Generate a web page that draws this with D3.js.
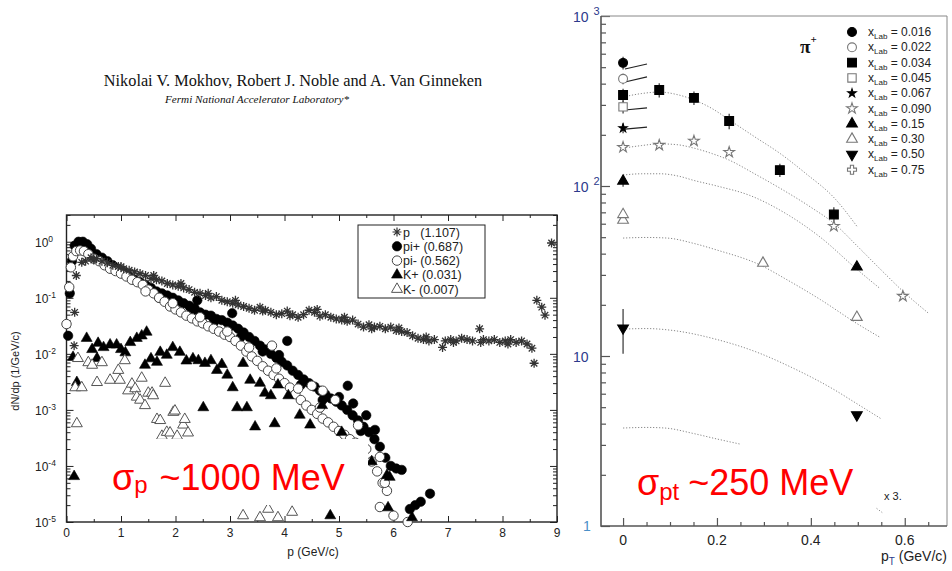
<!DOCTYPE html>
<html><head><meta charset="utf-8">
<script src="https://cdn.jsdelivr.net/npm/d3@7"></script>
<style>body{margin:0;background:#fff}svg{display:block}</style>
</head><body>
<svg id="fig" width="952" height="571"></svg>
<script>
// ---------------- Left panel: dN/dp spectra (log scale) ----------------
const protonPts = [[0.14,0.014],[0.15,0.055],[0.18,0.25],[0.28,0.43],[0.35,0.45],[0.45,0.52],[0.55,0.5],[0.65,0.45],[0.75,0.42],[0.85,0.38],
  [0.95,0.36],[1.05,0.33],[1.15,0.31],[1.25,0.29],[1.35,0.27],[1.45,0.25],[1.55,0.22],[1.65,0.21],[1.75,0.2],[1.85,0.18],
  [1.95,0.17],[2.05,0.16],[2.15,0.15],[2.25,0.14],[2.35,0.125],[2.45,0.12],[2.55,0.11],[2.65,0.1],[2.75,0.105],[2.85,0.09],
  [2.95,0.085],[3.05,0.08],[3.15,0.075],[3.25,0.07],[3.35,0.065],[3.45,0.06],[3.55,0.068],[3.65,0.06],[3.75,0.055],[3.85,0.05],
  [3.95,0.052],[4.05,0.058],[4.15,0.05],[4.25,0.045],[4.35,0.05],[4.45,0.06],[4.55,0.055],[4.65,0.047],[4.75,0.05],[4.85,0.045],
  [4.95,0.042],[5.05,0.04],[5.15,0.038],[5.25,0.04],[5.35,0.034],[5.45,0.03],[5.55,0.033],[5.65,0.03],[5.75,0.031],[5.85,0.028],
  [5.95,0.03],[6.05,0.026],[6.15,0.025],[6.25,0.024],[6.35,0.021],[6.45,0.019],[6.55,0.018],[6.65,0.017],[6.75,0.018],[6.9,0.013],
  [6.95,0.017],[7.05,0.018],[7.15,0.017],[7.25,0.019],[7.35,0.018],[7.45,0.017],[7.58,0.028],[7.65,0.018],[7.75,0.017],[7.85,0.018],
  [7.95,0.016],[8.05,0.017],[8.15,0.018],[8.25,0.016],[8.35,0.017],[8.45,0.015],[8.54,0.0126],[8.58,0.0068],[8.63,0.09],[8.72,0.068],
  [8.78,0.049],[8.9,0.95],
  [0.5,0.47],[1.0,0.36],[1.6,0.25],[2.1,0.18],[2.6,0.12],[3.1,0.09],[3.6,0.058],[4.1,0.048],[4.6,0.062],[5.1,0.045],[5.6,0.028],[6.1,0.029],[6.6,0.02],[7.1,0.016],[7.6,0.016],[8.1,0.015]];
const piPlusPts = [[0.03,0.021],[0.06,0.12],[0.1,0.45],[0.15,0.85],[0.22,1.0],[0.3,1.0],[0.38,0.9],[0.45,0.75],[0.55,0.6],[0.65,0.52],
  [0.75,0.45],[0.85,0.38],[0.95,0.33],[1.05,0.28],[1.15,0.24],[1.25,0.21],[1.35,0.19],[1.45,0.17],[1.55,0.15],[1.65,0.13],
  [1.75,0.12],[1.85,0.11],[1.95,0.1],[2.05,0.09],[2.15,0.08],[2.25,0.072],[2.35,0.065],[2.45,0.055],[2.55,0.05],[2.65,0.048],
  [2.75,0.042],[2.85,0.04],[2.95,0.036],[3.05,0.032],[3.15,0.028],[3.25,0.024],[3.35,0.02],[3.45,0.017],[3.55,0.014],[3.65,0.012],
  [3.75,0.01],[3.85,0.0085],[3.95,0.0072],[4.05,0.0062],[4.15,0.005],[4.25,0.0042],[4.35,0.0035],[4.45,0.003],[4.55,0.0026],[4.65,0.0022],
  [4.75,0.0019],[4.85,0.0016],[4.95,0.0014],[5.05,0.0012],[5.15,0.001],[5.25,0.0008],[5.35,0.00065],[5.45,0.0005],[5.55,0.0004],[5.65,0.0003],
  [5.75,0.00022],[5.85,0.00014],[5.95,0.0001],[6.05,0.00009],[6.15,0.000085],[6.3,0.000017],[6.4,0.00002],[6.5,0.000023],[6.67,0.000032],
  [2.4,0.09],[3.04,0.053],[4.05,0.017],[5.16,0.0027],[5.26,0.0013],[5.5,0.0008],[5.66,0.00044],
  [1.7,0.1],[2.0,0.075],[2.3,0.058],[2.7,0.036],[3.2,0.02],[3.6,0.011],[3.9,0.0095],[4.3,0.0028],[4.7,0.0015],[5.0,0.0017],[5.4,0.00042]];
const piMinusPts = [[0.0,0.034],[0.05,0.155],[0.08,0.35],[0.12,0.55],[0.18,0.68],[0.25,0.7],[0.32,0.68],[0.4,0.6],[0.5,0.5],[0.6,0.45],
  [0.7,0.38],[0.8,0.33],[0.9,0.3],[1.0,0.27],[1.1,0.24],[1.2,0.21],[1.3,0.19],[1.4,0.17],[1.5,0.14],[1.6,0.12],
  [1.7,0.1],[1.8,0.085],[1.9,0.07],[2.0,0.062],[2.1,0.055],[2.2,0.048],[2.3,0.043],[2.4,0.038],[2.5,0.035],[2.6,0.031],
  [2.7,0.028],[2.8,0.025],[2.9,0.022],[3.0,0.02],[3.1,0.017],[3.2,0.014],[3.3,0.011],[3.4,0.009],[3.5,0.0075],[3.6,0.006],
  [3.7,0.005],[3.8,0.0042],[3.9,0.0036],[4.0,0.003],[4.1,0.0025],[4.2,0.0019],[4.3,0.0015],[4.4,0.0012],[4.5,0.001],[4.6,0.00085],
  [4.7,0.0007],[4.8,0.0006],[4.9,0.0005],[5.0,0.00042],[5.1,0.00036],[5.2,0.0003],[5.3,0.00026],[5.4,0.00022],[5.5,0.0002],[5.6,0.00012],
  [5.7,0.00008],[5.75,0.0000185],[5.8,0.00005],[5.88,0.000036],[6.0,0.000013],[6.26,0.00001],
  [3.77,0.014],[4.5,0.0027],[4.7,0.0022],[4.93,0.0015],[5.35,0.00053],[5.75,0.000145],[5.84,0.00005],
  [1.45,0.13],[1.95,0.08],[2.45,0.045],[2.95,0.025],[3.35,0.013],[3.85,0.0055],[4.25,0.0024],[4.65,0.0011]];
const kPlusPts = [[0.12,0.0087],[0.14,0.000065],[0.19,0.0031],[0.37,0.019],[0.47,0.012],[0.56,0.0083],[0.58,0.0155],[0.68,0.013],[0.8,0.0145],[0.92,0.0145],
  [1.0,0.012],[1.08,0.0105],[1.17,0.016],[1.29,0.019],[1.38,0.021],[1.47,0.0245],[1.44,0.0063],[1.55,0.0082],[1.66,0.0071],[1.72,0.0107],
  [1.84,0.0095],[1.95,0.013],[2.08,0.0107],[2.2,0.0075],[2.32,0.0082],[2.42,0.0076],[2.51,0.0011],[2.54,0.0068],[2.65,0.0076],[2.76,0.0051],
  [2.85,0.0065],[2.95,0.0042],[3.05,0.0025],[3.13,0.0011],[3.24,0.0068],[3.31,0.0011],[3.37,0.0034],[3.46,0.0005],[3.55,0.003],[3.64,0.002],
  [3.75,0.0018],[3.82,0.00057],[3.88,0.0028],[4.07,0.0018],[4.28,0.00081],[4.47,0.00054],[4.69,0.0012],[4.84,0.000013],[5.05,0.0004],[5.3,0.00022],
  [5.6,0.00012],[5.88,0.000068],[5.93,0.000063],[5.9,0.000018],[6.34,0.000012]];
const kMinusPts = [[0.16,0.0025],[0.19,0.00057],[0.21,0.0083],[0.28,0.0025],[0.4,0.007],[0.47,0.0063],[0.56,0.0031],[0.65,0.007],[0.8,0.0034],[0.95,0.0051],
  [0.98,0.0034],[1.07,0.0076],[1.13,0.0022],[1.2,0.0029],[1.26,0.0024],[1.29,0.0017],[1.35,0.0015],[1.38,0.0037],[1.44,0.0012],[1.5,0.002],
  [1.57,0.002],[1.59,0.0018],[1.66,0.00068],[1.72,0.00065],[1.75,0.00034],[1.81,0.003],[1.84,0.0004],[1.9,0.00039],[1.96,0.00091],[1.99,0.00096],
  [2.03,0.00034],[2.14,0.00054],[2.17,0.00068],[2.23,0.00039],[3.24,0.000013],[3.55,0.000012],[3.7,0.000017],[3.88,0.000012],[4.14,0.000015]];
const leftLegend = ["p   (1.107)", "pi+ (0.687)", "pi- (0.562)", "K+ (0.031)", "K- (0.007)"];
const pTicks = [0,1,2,3,4,5,6,7,8,9];
const dndpExponents = [0,-1,-2,-3,-4,-5];

// ---------------- Right panel: pi+ pT spectra ----------------
const xLabLabels = ["0.016","0.022","0.034","0.045","0.067","0.090","0.15","0.30","0.50","0.75"];
// [pT, value, error]
const x016 = [[0,530,45]];
const x022 = [[0,427,30]];
const x034 = [[0,343,30],[0.077,367,35],[0.151,330,30],[0.226,241,25],[0.334,124,11],[0.449,68,7]];
const x045 = [[0,292,25]];
const x067 = [[0,219,15]];
const x090 = [[0,169,0],[0.077,174,0],[0.151,184,0],[0.226,158,0],[0.449,58,0],[0.596,22.5,0]];
const x015 = [[0,107,8],[0.498,33.4,0]];
const x030 = [[0,63,0],[0,68,0],[0.298,35.2,0],[0.498,16.9,0]];
const x050 = [[0,14.6,4.3],[0.498,4.5,0]];
const x075 = [];
// short solid fits at low pT
const fit016 = [[0.004,488],[0.051,522]];
const fit022 = [[0.004,409],[0.051,438]];
const fit045 = [[0.004,280],[0.051,288]];
const fit067 = [[0.004,216],[0.051,222]];
// dotted model curves
const model034 = [[0,334],[0.04,350],[0.077,357],[0.115,345],[0.151,321],[0.19,285],[0.226,245],[0.28,195],[0.335,155],[0.39,118],[0.45,85],[0.5,57]];
const model090 = [[0,167],[0.04,173],[0.077,177],[0.115,175],[0.151,167],[0.19,155],[0.226,142],[0.28,118],[0.34,95],[0.4,75],[0.45,60],[0.5,44],[0.55,32],[0.6,23.5],[0.65,17.9]];
const model015 = [[0,116],[0.04,118],[0.079,118],[0.12,114],[0.15,108],[0.2,100],[0.27,88],[0.35,68],[0.42,50],[0.5,32],[0.547,25]];
const model030 = [[0,49.4],[0.05,49.8],[0.094,49.4],[0.15,46],[0.2,42],[0.29,34.5],[0.35,28],[0.42,21.5],[0.5,15.4],[0.547,12.9]];
const model050 = [[0,14.4],[0.05,14.5],[0.1,14.2],[0.2,12.5],[0.29,10.4],[0.35,8.8],[0.447,6.4],[0.5,5.2],[0.551,4.25]];
const model075 = [[0,3.77],[0.05,3.8],[0.089,3.77],[0.15,3.5],[0.2,3.25],[0.25,3.03]];
const modelTail = [[0.54,1.27],[0.552,1.2]];
const ptTicks = [0,0.2,0.4,0.6];
const countExponents = [3,2,1];

const svg = d3.select("#fig");
svg.append("rect").attr("width",952).attr("height",571).attr("fill","#fff");

// header text
svg.append("text").attr("x",293).attr("y",86).attr("text-anchor","middle")
  .attr("font-family","Liberation Serif").attr("font-size",16.3).attr("fill","#111")
  .text("Nikolai V. Mokhov, Robert J. Noble and A. Van Ginneken");
svg.append("text").attr("x",257).attr("y",103).attr("text-anchor","middle")
  .attr("font-family","Liberation Serif").attr("font-style","italic").attr("font-size",11.2).attr("fill","#111")
  .text("Fermi National Accelerator Laboratory*");

// ----- left panel -----
const L = {x0:66.5, x1:557, y0:215, y1:522};
const xL = d3.scaleLinear().domain([0,9]).range([L.x0,L.x1]);
const yL = d3.scaleLog().domain([1e-5,3.0]).range([L.y1,L.y0]);
const left = svg.append("g").attr("font-family","Liberation Sans");

function minorLogTicks(lo, hi){
  const t=[]; for(let e=lo;e<hi;e++) for(let k=2;k<=9;k++){ t.push(k*Math.pow(10,e)); } return t;
}
const lMajor = dndpExponents.map(e=>Math.pow(10,e));
const lMinor = minorLogTicks(-5,1).filter(v=>v<=3.0);
function tickAxis(g, axis){ g.call(axis); g.select(".domain").remove(); g.selectAll("text").remove(); g.selectAll("line").attr("stroke","#222"); }
left.append("g").attr("transform",`translate(${L.x0},0)`).call(g=>tickAxis(g,d3.axisRight(yL).tickValues(lMajor).tickSize(7)));
left.append("g").attr("transform",`translate(${L.x0},0)`).call(g=>tickAxis(g,d3.axisRight(yL).tickValues(lMinor).tickSize(4)));
left.append("g").attr("transform",`translate(${L.x1},0)`).call(g=>tickAxis(g,d3.axisLeft(yL).tickValues(lMajor).tickSize(7)));
left.append("g").attr("transform",`translate(${L.x1},0)`).call(g=>tickAxis(g,d3.axisLeft(yL).tickValues(lMinor).tickSize(4)));
const halfP = d3.range(0.5,9,1);
left.append("g").attr("transform",`translate(0,${L.y1})`).call(g=>tickAxis(g,d3.axisTop(xL).tickValues(pTicks).tickSize(6)));
left.append("g").attr("transform",`translate(0,${L.y1})`).call(g=>tickAxis(g,d3.axisTop(xL).tickValues(halfP).tickSize(3)));
left.append("g").attr("transform",`translate(0,${L.y0})`).call(g=>tickAxis(g,d3.axisBottom(xL).tickValues(pTicks).tickSize(6)));
left.append("g").attr("transform",`translate(0,${L.y0})`).call(g=>tickAxis(g,d3.axisBottom(xL).tickValues(halfP).tickSize(3)));
left.append("rect").attr("x",L.x0).attr("y",L.y0).attr("width",L.x1-L.x0).attr("height",L.y1-L.y0)
  .attr("fill","none").attr("stroke","#222").attr("stroke-width",1.4);

// tick labels
left.selectAll("text.xt").data(pTicks).join("text").attr("class","xt")
  .attr("x",d=>xL(d)).attr("y",537).attr("text-anchor","middle").attr("font-size",12).attr("fill","#222").text(d=>d);
dndpExponents.forEach(e=>{
  const t = left.append("text").attr("y",yL(Math.pow(10,e))+5).attr("font-size",12).attr("fill","#222");
  t.append("tspan").attr("x",35).text("10");
  t.append("tspan").attr("dy",-5).attr("font-size",8.5).text(e===0?"0":"-"+(-e));
});
left.append("text").attr("transform","translate(19,371) rotate(-90)").attr("text-anchor","middle")
  .attr("font-size",11).attr("fill","#222").text("dN/dp (1/GeV/c)");
left.append("text").attr("x",313).attr("y",556).attr("text-anchor","middle")
  .attr("font-size",12).attr("fill","#222").text("p (GeV/c)");

// marker shapes
const asterisk = "M-4.5,0L4.5,0M0,-4.5L0,4.5M-3.2,-3.2L3.2,3.2M-3.2,3.2L3.2,-3.2";
const circleP = d3.symbol(d3.symbolCircle, 70)();
const triP = d3.symbol(d3.symbolTriangle, 52)();
function drawPts(g, data, path, fill, stroke, sw){
  g.selectAll(null).data(data).join("path")
    .attr("transform",d=>`translate(${xL(d[0])},${yL(d[1])})`)
    .attr("d",path).attr("fill",fill).attr("stroke",stroke).attr("stroke-width",sw);
}
const marks = left.append("g");
drawPts(marks, piPlusPts, circleP, "#000", "#000", 0.6);
drawPts(marks, piMinusPts, circleP, "#fff", "#444", 1);
drawPts(marks, protonPts, asterisk, "none", "#333", 1.3);
drawPts(marks, kPlusPts, triP, "#000", "#000", 0.6);
drawPts(marks, kMinusPts, triP, "#fff", "#555", 1);

// legend
const lg = left.append("g");
lg.append("rect").attr("x",358).attr("y",225).attr("width",127).attr("height",73).attr("fill","#fff").attr("stroke","#222").attr("stroke-width",1);
const legendShapes = [[asterisk,"none","#333",1.2],[circleP,"#000","#000",0.6],[circleP,"#fff","#444",1],[triP,"#000","#000",0.6],[triP,"#fff","#555",1]];
leftLegend.forEach((lab,i)=>{
  const yy = 232 + i*14.3;
  const s = legendShapes[i];
  lg.append("path").attr("transform",`translate(397,${yy})`).attr("d",s[0]).attr("fill",s[1]).attr("stroke",s[2]).attr("stroke-width",s[3]);
  lg.append("text").attr("x",403).attr("y",yy+4.5).attr("font-size",12.5).attr("fill","#222")
    .attr("xml:space","preserve").style("white-space","pre").text(lab);
});

// annotation over the left panel
left.append("rect").attr("x",88).attr("y",439).attr("width",280).attr("height",66).attr("fill","#fff");
const annL = left.append("text").attr("x",112).attr("y",490).attr("fill","#ff0000").attr("font-size",36);
annL.append("tspan").text("σ");
annL.append("tspan").attr("font-size",24).attr("dy",3).text("p");
annL.append("tspan").attr("dy",-3).attr("dx",12).text("~1000 MeV");

// ----- right panel -----
const R = {x0:601, x1:947, y0:16, y1:526};
const xR = d3.scaleLinear().domain([-0.047,0.69]).range([R.x0,R.x1]);
const yR = d3.scaleLog().domain([1,1000]).range([R.y1,R.y0]);
const right = svg.append("g").attr("font-family","Liberation Sans");

const rMajor = countExponents.map(e=>Math.pow(10,e));
const rMinor = minorLogTicks(0,3);
function tickAxisR(g, axis){ g.call(axis); g.select(".domain").remove(); g.selectAll("text").remove(); g.selectAll("line").attr("stroke","#555").attr("stroke-width",1.2); }
right.append("g").attr("transform",`translate(${R.x0},0)`).call(g=>tickAxisR(g,d3.axisRight(yR).tickValues(rMajor.concat([1])).tickSize(9)));
right.append("g").attr("transform",`translate(${R.x0},0)`).call(g=>tickAxisR(g,d3.axisRight(yR).tickValues(rMinor).tickSize(5)));
const ptMinor = d3.range(0.05,0.66,0.05).filter(v=>Math.abs(v/0.2-Math.round(v/0.2))>1e-6);
right.append("g").attr("transform",`translate(0,${R.y1})`).call(g=>tickAxisR(g,d3.axisTop(xR).tickValues(ptTicks).tickSize(8)));
right.append("g").attr("transform",`translate(0,${R.y1})`).call(g=>tickAxisR(g,d3.axisTop(xR).tickValues(ptMinor).tickSize(4)));
right.append("path").attr("d",`M${R.x0},${R.y0}H${R.x1}V${R.y1}`).attr("fill","none").attr("stroke","#888").attr("stroke-width",1);
right.append("path").attr("d",`M${R.x0},${R.y0}V${R.y1}H${R.x1}`).attr("fill","none").attr("stroke","#555").attr("stroke-width",1.6);

right.selectAll("text.xt").data(ptTicks).join("text").attr("class","xt")
  .attr("x",d=>xR(d)).attr("y",545).attr("text-anchor","middle").attr("font-size",14).attr("fill","#222")
  .text(d=>d===0?"0":d3.format(".1f")(d));
countExponents.forEach(e=>{
  const t = right.append("text").attr("y",yR(Math.pow(10,e))+6).attr("font-size",14).attr("fill","#2d3a8c");
  t.append("tspan").attr("x",573).text("10");
  if(e>1) t.append("tspan").attr("dx",5).attr("dy",-7).attr("font-size",11).text(e);
});
right.append("text").attr("x",583).attr("y",yR(1)+5).attr("font-size",14).attr("fill","#4a90c8").text("1");
const ptT = right.append("text").attr("x",947).attr("y",561).attr("text-anchor","end").attr("font-size",14).attr("fill","#222");
ptT.append("tspan").text("p");
ptT.append("tspan").attr("dy",4).attr("font-size",10).attr("fill","#2d3a8c").text("T");
ptT.append("tspan").attr("dy",-4).text(" (GeV/c)");

// model curves
const lineR = d3.line().x(d=>xR(d[0])).y(d=>yR(d[1])).curve(d3.curveMonotoneX);
[model034,model090,model015,model030,model050,model075,modelTail].forEach(c=>{
  right.append("path").attr("d",lineR(c)).attr("fill","none").attr("stroke","#888").attr("stroke-width",1).attr("stroke-dasharray","1.2,1.8");
});
[fit016,fit022,fit045,fit067].forEach(c=>{
  right.append("path").attr("d",d3.line().x(d=>xR(d[0])).y(d=>yR(d[1]))(c)).attr("fill","none").attr("stroke","#222").attr("stroke-width",1.2);
});

// symbols for x_Lab series
const crossOpen = "M-1.6,-4.5H1.6V-1.6H4.5V1.6H1.6V4.5H-1.6V1.6H-4.5V-1.6H-1.6Z";
const sym = {
  circle:[d3.symbol(d3.symbolCircle,62)(),"#000","#000"],
  circleOpen:[d3.symbol(d3.symbolCircle,62)(),"#fff","#777"],
  square:[d3.symbol(d3.symbolSquare,78)(),"#000","#000"],
  squareOpen:[d3.symbol(d3.symbolSquare,70)(),"#fff","#777"],
  star:[d3.symbol(d3.symbolStar,22)(),"#000","#000"],
  starOpen:[d3.symbol(d3.symbolStar,36)(),"#fff","#777"],
  tri:[d3.symbol(d3.symbolTriangle,50)(),"#000","#000"],
  triOpen:[d3.symbol(d3.symbolTriangle,50)(),"#fff","#777"],
  triDown:[d3.symbol(d3.symbolTriangle,50)(),"#000","#000",180],
  crossOpen:[crossOpen,"#fff","#777"]
};
const rSeries = [[x016,"circle"],[x022,"circleOpen"],[x034,"square"],[x045,"squareOpen"],[x067,"star"],
  [x090,"starOpen"],[x015,"tri"],[x030,"triOpen"],[x050,"triDown"],[x075,"crossOpen"]];
rSeries.forEach(([data,k])=>{
  const s = sym[k];
  right.selectAll(null).data(data.filter(d=>d[2]>0)).join("line")
    .attr("x1",d=>xR(d[0])).attr("x2",d=>xR(d[0]))
    .attr("y1",d=>yR(d[1]-d[2])).attr("y2",d=>yR(d[1]+d[2])).attr("stroke","#333").attr("stroke-width",1.2);
  right.selectAll(null).data(data).join("path")
    .attr("transform",d=>`translate(${xR(d[0])},${yR(d[1])})`+(s[3]?` rotate(${s[3]})`:""))
    .attr("d",s[0]).attr("fill",s[1]).attr("stroke",s[2]).attr("stroke-width",1.1);
});

// legend
const rl = right.append("g");
rSeries.forEach(([data,k],i)=>{
  const s = sym[k]; const yy = 32 + i*15.3;
  rl.append("path").attr("transform",`translate(852,${yy})`+(s[3]?` rotate(${s[3]})`:"")).attr("d",s[0]).attr("fill",s[1]).attr("stroke",s[2]).attr("stroke-width",1.1);
  const t = rl.append("text").attr("x",868).attr("y",yy+4).attr("font-size",12).attr("fill","#222");
  t.append("tspan").text("x");
  t.append("tspan").attr("dy",3).attr("font-size",8).text("Lab");
  t.append("tspan").attr("dy",-3).text(" = "+xLabLabels[i]);
});
const piT = right.append("text").attr("x",800).attr("y",53).attr("font-family","Liberation Serif").attr("font-size",19).attr("font-weight","bold").attr("fill","#111");
piT.append("tspan").text("π");
piT.append("tspan").attr("dy",-10).attr("font-size",11).text("+");
right.append("text").attr("x",884).attr("y",500).attr("font-size",11).attr("fill","#222").text("x 3.");

const annR = right.append("text").attr("x",637).attr("y",495).attr("fill","#ff0000").attr("font-size",36);
annR.append("tspan").text("σ");
annR.append("tspan").attr("font-size",24).attr("dy",5).text("pt");
annR.append("tspan").attr("dy",-5).attr("dx",9).text("~250 MeV");
</script>
</body></html>
